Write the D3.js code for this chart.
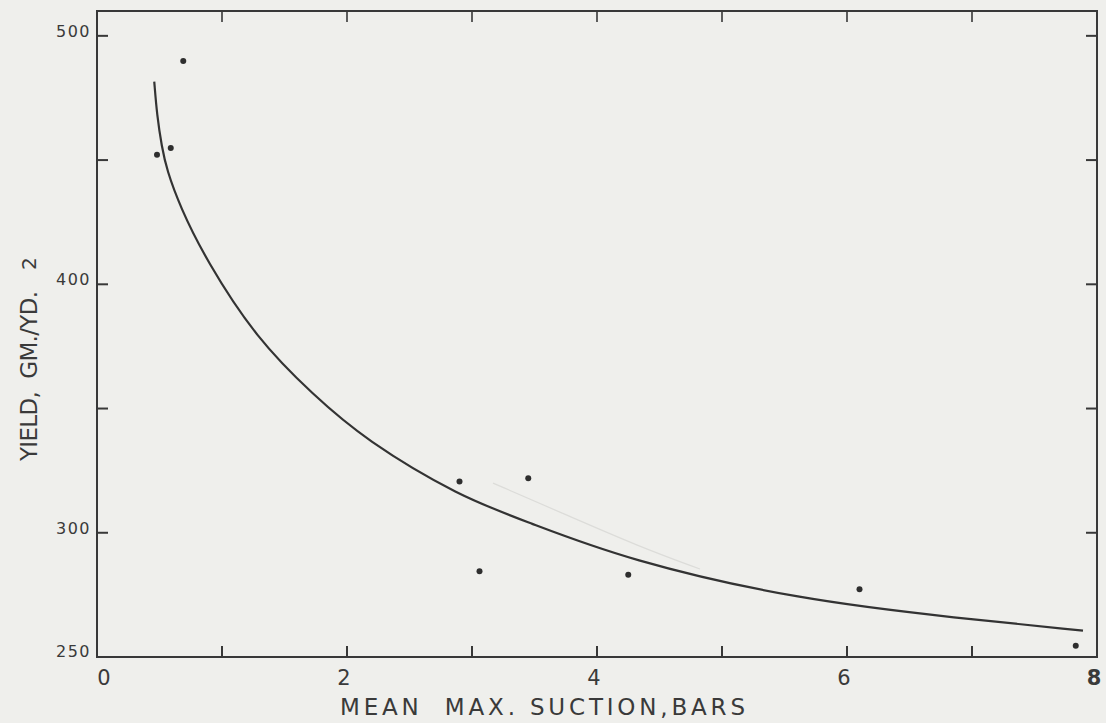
<!DOCTYPE html>
<html>
<head>
<meta charset="utf-8">
<script src="https://cdn.jsdelivr.net/npm/d3@7"></script>
<style>
  html, body { margin: 0; padding: 0; background: #efefec; }
  svg { display: block; }
  text { font-family: "DejaVu Sans", sans-serif; fill: #3a3a3a; }
</style>
</head>
<body>
<svg id="chart" width="1106" height="723"></svg>
<script>
// Observed plots: mean maximum suction (bars) vs yield (gm/yd^2)
const suction = [0.48, 0.59, 0.69, 2.90, 3.06, 3.45, 4.25, 6.10, 7.83];
const yieldGm = [452.1, 454.9, 489.9, 320.6, 284.5, 321.9, 283.1, 277.3, 254.5];

// Fitted curve, traced as (suction, yield) pairs
const curveX = [0.458, 0.480, 0.518, 0.558, 0.664, 0.872, 1.278, 1.730, 2.144, 2.904, 3.438, 4.240, 5.624, 6.904, 7.888];
const curveY = [481.6, 468.0, 455.4, 446.1, 431.3, 409.8, 378.0, 355.5, 337.4, 314.5, 304.5, 289.0, 272.9, 265.6, 260.6];

// Faint pencil guide left on the sheet
const guideX = [3.168, 3.704, 4.344, 4.824];
const guideY = [320.0, 308.3, 294.3, 285.4];

const xTicks = [0, 1, 2, 3, 4, 5, 6, 7, 8];
const xTickLabels = ["0", "", "2", "", "4", "", "6", "", "8"];
const yTicks = [250, 300, 350, 400, 450, 500];
const yTickLabels = ["250", "300", "", "400", "", "500"];

const xTitle = "MEAN  MAX. SUCTION,BARS";
const yTitle = "YIELD,  GM./YD.";
const yTitleSup = "2";

const svg = d3.select("#chart");
const x = d3.scaleLinear().domain([0, 8]).range([97, 1097]);
const y = d3.scaleLinear().domain([250, 510]).range([657, 11]);

const ink = "#383838";
const frame = svg.append("g");

// Frame
frame.append("rect")
  .attr("x", x(0)).attr("y", y(510))
  .attr("width", x(8) - x(0)).attr("height", y(250) - y(510))
  .attr("fill", "none").attr("stroke", ink).attr("stroke-width", 2);

// Inward ticks on all four sides
const tl = 11;
frame.selectAll(".xb").data(xTicks.slice(1, -1)).join("line")
  .attr("x1", d => x(d)).attr("x2", d => x(d))
  .attr("y1", y(250)).attr("y2", y(250) - tl)
  .attr("stroke", ink).attr("stroke-width", 2);
frame.selectAll(".xt").data(xTicks.slice(1, -1)).join("line")
  .attr("x1", d => x(d)).attr("x2", d => x(d))
  .attr("y1", y(510)).attr("y2", y(510) + tl)
  .attr("stroke", ink).attr("stroke-width", 1.6);
frame.selectAll(".yl").data(yTicks.slice(1)).join("line")
  .attr("x1", x(0)).attr("x2", x(0) + tl)
  .attr("y1", d => y(d)).attr("y2", d => y(d))
  .attr("stroke", ink).attr("stroke-width", 2);
frame.selectAll(".yr").data(yTicks.slice(1)).join("line")
  .attr("x1", x(8)).attr("x2", x(8) - tl)
  .attr("y1", d => y(d)).attr("y2", d => y(d))
  .attr("stroke", ink).attr("stroke-width", 2);

// Tick labels
svg.selectAll(".ylab").data(yTicks).join("text")
  .attr("x", x(0) - 6)
  .attr("y", (d, i) => y(d) + (i === 0 ? 0 : 1))
  .attr("text-anchor", "end")
  .attr("font-size", 16)
  .attr("letter-spacing", 1.5)
  .text((d, i) => yTickLabels[i]);

svg.selectAll(".xlab").data(xTicks).join("text")
  .attr("x", d => x(d) + (d === 0 ? 7 : -3))
  .attr("y", 685)
  .attr("text-anchor", "middle")
  .attr("font-size", 21)
  .attr("font-weight", d => d === 8 ? "bold" : "normal")
  .text((d, i) => xTickLabels[i]);

// Axis titles
svg.append("text")
  .attr("x", 340).attr("y", 715)
  .attr("font-size", 23)
  .attr("textLength", 405).attr("lengthAdjust", "spacing")
  .style("white-space", "pre")
  .text(xTitle);

svg.append("text")
  .attr("transform", "translate(37,461) rotate(-90)")
  .attr("font-size", 23)
  .attr("textLength", 170).attr("lengthAdjust", "spacing")
  .style("white-space", "pre")
  .text(yTitle);
svg.append("text")
  .attr("transform", "translate(36,270) rotate(-90)")
  .attr("font-size", 20)
  .text(yTitleSup);

// Pencil guide
svg.append("path")
  .datum(d3.range(guideX.length))
  .attr("fill", "none").attr("stroke", "#dcdcd9").attr("stroke-width", 1.2)
  .attr("d", d3.line().x(i => x(guideX[i])).y(i => y(guideY[i])).curve(d3.curveBasis));

// Fitted curve (smoothed B-spline through the traced pairs)
svg.append("path")
  .datum(d3.range(curveX.length))
  .attr("fill", "none").attr("stroke", "#333").attr("stroke-width", 2.2)
  .attr("d", d3.line().x(i => x(curveX[i])).y(i => y(curveY[i])).curve(d3.curveBasis));

// Observations
svg.selectAll(".pt").data(d3.range(suction.length)).join("circle")
  .attr("cx", i => x(suction[i])).attr("cy", i => y(yieldGm[i]))
  .attr("r", 3).attr("fill", "#2e2e2e");
</script>
</body>
</html>
